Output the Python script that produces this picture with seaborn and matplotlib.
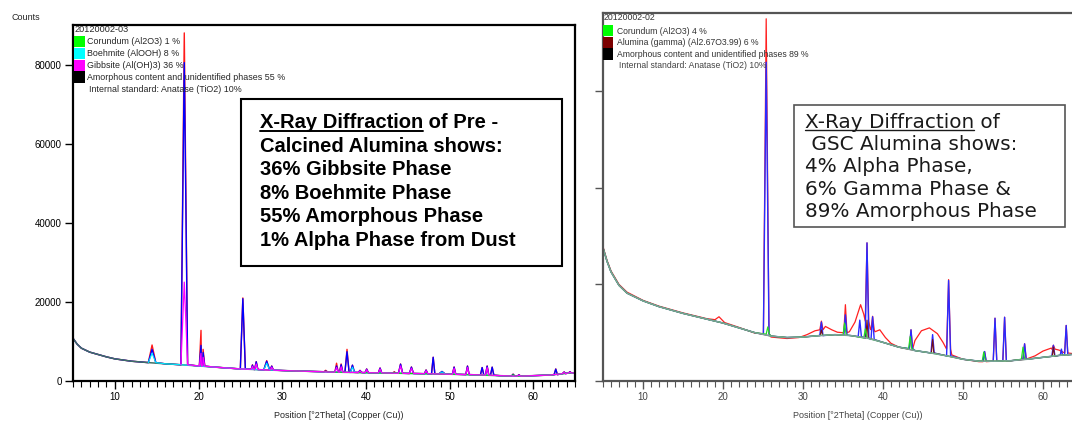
import numpy as np
import pandas as pd
import matplotlib
matplotlib.use("Agg")
import matplotlib.pyplot as plt
import seaborn as sns
from matplotlib.patches import Rectangle
from matplotlib.lines import Line2D
from matplotlib.ticker import MultipleLocator

# ---------------- Left panel data (sample 20120002-03) ----------------
L_bg_x = [5, 5.5, 6, 7, 8, 9, 10, 12, 14, 16, 18, 20, 22, 25, 28, 30, 33, 36, 40, 44, 48, 52, 56, 58, 60, 62, 64, 65]
L_bg_y = [10800, 9300, 8300, 7300, 6700, 6100, 5600, 5000, 4650, 4350, 4100, 3800, 3500, 3050, 2800, 2650,
          2450, 2250, 2100, 1950, 1800, 1620, 1350, 1230, 1350, 1500, 1950, 2100]

L_pk_pos = [14.45, 18.3, 20.3, 20.55, 25.3, 26.45, 26.9, 28.15, 28.75, 35.2, 36.5, 37.05, 37.75, 38.4, 39.3,
            40.1, 41.7, 43.4, 44.15, 45.45, 47.2, 48.05, 49.1, 50.55, 52.15, 53.9, 54.5, 55.1, 57.6, 58.3,
            62.7, 63.7, 64.4]
L_pk_base = [4650, 4100, 3800, 3750, 3050, 2950, 2900, 2800, 2750, 2350, 2250, 2220, 2200, 2180, 2150,
             2100, 2050, 1970, 1950, 1900, 1850, 1800, 1750, 1700, 1620, 1550, 1500, 1470, 1250, 1230,
             1600, 1850, 2000]
L_pk_obs = [9100, 88000, 12800, 8000, 21000, 4100, 4900, 5150, 3800, 2700, 4500, 4300, 8000, 4000, 2700,
            3050, 3300, 2350, 4300, 3550, 2800, 6000, 2400, 3550, 3800, 3400, 3800, 3500, 1750, 1600,
            3050, 2300, 2350]
L_pk_calc = [8000, 80500, 9000, 7200, 20800, 4000, 4850, 5000, 3750, 2500, 3800, 4100, 7400, 4000, 2650,
             3000, 3250, 2200, 4250, 3500, 2750, 6000, 2400, 3500, 3750, 3400, 3750, 3500, 1700, 1550,
             3000, 2250, 2300]
L_pk_phase_top = [7000, 25000, 7000, 6000, 20800, 3700, 4300, 4500, 3500, 2450, 3400, 3600, 7400, 3500, 2550,
                  2850, 3050, 2150, 3800, 3200, 2600, 6000, 2300, 3200, 3400, 3400, 3400, 3500, 1650, 1500,
                  3000, 2150, 2200]
L_pk_phase = ["B", "G", "G", "G", "A", "G", "G", "B", "G", "C", "G", "G", "A", "B", "G",
              "G", "G", "C", "G", "G", "G", "A", "B", "G", "G", "A", "G", "A", "C", "G",
              "A", "G", "G"]
L_pk_hw = [0.45, 0.4, 0.2, 0.2, 0.3, 0.15, 0.2, 0.35, 0.2, 0.2, 0.2, 0.2, 0.25, 0.25, 0.2,
           0.2, 0.2, 0.2, 0.25, 0.25, 0.2, 0.2, 0.4, 0.2, 0.2, 0.2, 0.2, 0.2, 0.2, 0.2,
           0.2, 0.2, 0.2]
L_legend = ["Corundum (Al2O3) 1 %", "Boehmite (AlOOH) 8 %", "Gibbsite (Al(OH)3) 36 %",
            "Amorphous content and unidentified phases 55 %"]
L_yticks = [0, 20000, 40000, 60000, 80000]

# ---------------- Right panel data (sample 20120002-02) ----------------
R_bg_x = [5, 5.5, 6, 7, 8, 10, 12, 15, 18, 20, 22, 24, 26, 28, 30, 32, 34, 36, 38, 40, 42, 44, 46, 48,
          50, 52, 54, 56, 58, 60, 62, 63.6]
R_bg_y = [13800, 12400, 11300, 9900, 9100, 8300, 7700, 7000, 6400, 6000, 5500, 5000, 4650, 4500, 4550,
          4700, 4800, 4700, 4450, 4000, 3500, 3150, 2900, 2600, 2250, 2050, 2050, 2100, 2250, 2450, 2650, 2750]

R_obs_x = [5, 5.5, 6, 7, 8, 10, 12, 15, 18, 19, 19.5, 20.2, 22, 24, 26, 28, 29.5, 30.5, 31.5, 32.8,
           33.6, 34.3, 35, 35.8, 36.5, 37.2, 37.6, 38.4, 39, 39.6, 40.3, 41, 42, 43, 44, 44.8, 45.8,
           46.8, 47.5, 48.6, 50, 52, 54, 56, 58, 59, 60, 61, 62, 62.6, 63.6]
R_obs_y = [13900, 12500, 11400, 10000, 9200, 8350, 7750, 7050, 6450, 6350, 6650, 6050, 5550, 4950, 4550,
           4400, 4500, 4800, 5200, 5650, 5300, 5050, 5000, 5100, 6100, 7900, 6900, 5400, 5100, 5300,
           4500, 3900, 3500, 3350, 4200, 5200, 5500, 4900, 4000, 2700, 2250, 2000, 2050, 2100, 2300,
           2600, 3100, 3400, 3200, 2950, 2850]

R_obs_pk_pos = [25.4, 32.3, 35.3, 38.0, 38.7, 43.5, 48.2, 52.7, 54.0, 55.2, 57.7, 61.3, 62.9]
R_obs_pk_base = [4900, 5300, 5000, 6200, 5300, 3300, 3300, 2000, 2050, 2100, 2250, 3300, 2900]
R_obs_pk_top = [37500, 6200, 7900, 14300, 6700, 5300, 10500, 3050, 6500, 6600, 3850, 3700, 5750]
R_obs_pk_hw = [0.35, 0.2, 0.2, 0.22, 0.2, 0.2, 0.25, 0.2, 0.22, 0.22, 0.2, 0.2, 0.2]

R_pk_pos = [25.4, 32.3, 35.3, 37.1, 38.0, 38.7, 43.5, 46.2, 48.2, 52.7, 54.0, 55.2, 57.7, 61.3, 62.3, 62.9]
R_pk_base = [4850, 4700, 4750, 4600, 4450, 4300, 3350, 2900, 2600, 2050, 2050, 2100, 2250, 2550, 2650, 2700]
R_pk_calc = [33000, 6100, 6850, 6300, 14300, 6650, 5300, 4800, 10400, 3050, 6500, 6600, 3850, 3700, 3300, 5750]
R_pk_hw = [0.35, 0.2, 0.2, 0.2, 0.22, 0.2, 0.2, 0.2, 0.25, 0.2, 0.22, 0.22, 0.2, 0.2, 0.15, 0.2]

R_cor_pos = [25.6, 35.2, 37.8, 43.4, 52.6, 57.5]
R_cor_base = [4850, 4750, 4450, 3350, 2050, 2250]
R_cor_top = [5600, 6000, 5400, 4600, 3000, 3500]
R_cor_hw = [0.2, 0.2, 0.2, 0.2, 0.2, 0.2]

R_gam_pos = [32.3, 38.0, 46.2, 61.3]
R_gam_base = [4700, 4450, 2900, 2550]
R_gam_top = [5300, 6300, 4300, 3500]
R_gam_hw = [0.15, 0.15, 0.15, 0.15]

R_legend = ["Corundum (Al2O3) 4 %", "Alumina (gamma) (Al2.67O3.99) 6 %",
            "Amorphous content and unidentified phases 89 %"]
R_yticks = [0, 10000, 20000, 30000]
X_major = [10, 20, 30, 40, 50, 60]


def profile(base_x, base_y, pos, base, top, hw, start=None):
    """Join the read curve points with the read peak (base, top) points."""
    rows = []
    for x, y in zip(base_x, base_y):
        if start is not None and x < start:
            continue
        if any(abs(x - p) < w for p, w in zip(pos, hw)):
            continue
        rows.append((x, y, 0))
    for p, b, t, w in zip(pos, base, top, hw):
        if start is not None and p < start:
            continue
        rows += [(p - w, b, 1), (p, t, 2), (p + w, b, 3)]
    rows.sort(key=lambda r: (r[0], r[2]))
    return pd.DataFrame({"x": [r[0] for r in rows], "y": [r[1] for r in rows]})


def sub(mask_list, *lists):
    return [[v for v, m in zip(lst, mask_list) if m] for lst in lists]


sns.set_theme(style="ticks")
plt.rcParams["font.family"] = ["Liberation Sans", "DejaVu Sans"]

W, H = 1072, 422
fig = plt.figure(figsize=(W / 100, H / 100), dpi=100)
axL = fig.add_axes([73 / W, 1 - 381 / H, 502 / W, 356 / H])
axR = fig.add_axes([603 / W, 1 - 381 / H, 520 / W, 368 / H])


def line(ax, df, color, lw):
    sns.lineplot(data=df, x="x", y="y", ax=ax, color=color, linewidth=lw,
                 estimator=None, sort=False, legend=False)


# ---- left panel lines ----
line(axL, profile(L_bg_x, L_bg_y, L_pk_pos, L_pk_base, L_pk_obs, L_pk_hw), "#ff1a1a", 1.0)
line(axL, profile(L_bg_x, L_bg_y, L_pk_pos, L_pk_base, L_pk_calc, L_pk_hw), "#0000ff", 1.0)
line(axL, pd.DataFrame({"x": L_bg_x, "y": L_bg_y}), "#3f6f66", 1.1)
for ph, col, start, lw in [("B", "#00e8ff", 13, 0.8), ("C", "#00e000", 30, 0.7), ("G", "#ff00ff", 17, 0.9)]:
    mask = [p == ph for p in L_pk_phase]
    pos, base, top, hw = sub(mask, L_pk_pos, L_pk_base, L_pk_phase_top, L_pk_hw)
    line(axL, profile(L_bg_x, L_bg_y, pos, base, top, hw, start=start), col, lw)

# ---- right panel lines ----
line(axR, profile(R_obs_x, R_obs_y, R_obs_pk_pos, R_obs_pk_base, R_obs_pk_top, R_obs_pk_hw), "#ff2020", 0.9)
line(axR, profile(R_bg_x, R_bg_y, R_pk_pos, R_pk_base, R_pk_calc, R_pk_hw), "#2a2aff", 1.0)
line(axR, profile(R_bg_x, R_bg_y, R_gam_pos, R_gam_base, R_gam_top, R_gam_hw), "#7b1010", 0.8)
line(axR, profile(R_bg_x, R_bg_y, R_cor_pos, R_cor_base, R_cor_top, R_cor_hw), "#22dd22", 0.9)
line(axR, pd.DataFrame({"x": R_bg_x, "y": R_bg_y}), "#7aa39a", 1.1)

# ---- axes styling ----
for ax, spc, lab, xmax, ymax, yt in [(axL, "black", "black", 65, 90000, L_yticks),
                                     (axR, "#555555", "#444444", 70, 38100, R_yticks)]:
    ax.set_xticks(X_major)
    ax.xaxis.set_minor_locator(MultipleLocator(1))
    ax.set_yticks(yt)
    ax.set_xlim(5, xmax)
    ax.set_ylim(0, ymax)
    ax.set_xlabel("")
    ax.set_ylabel("")
    for s in ax.spines.values():
        s.set_visible(True)
        s.set_color(spc)
        s.set_linewidth(1.6)
    ax.tick_params(which="major", direction="out", length=6, width=1, color=spc,
                   labelsize=7, labelcolor=lab, pad=2)
    ax.tick_params(which="minor", direction="out", length=4, width=0.8, color=spc)
    ax.tick_params(axis="y", which="minor", left=False)
    ax.set_facecolor("white")
axL.yaxis.set_major_formatter(matplotlib.ticker.FuncFormatter(lambda v, p: f"{int(v)}"))
axR.tick_params(axis="y", labelleft=False)


def px(x, y):
    return x / W, 1 - y / H


def ftext(x, y, s, **kw):
    return fig.text(*px(x, y), s, **kw)


def square(x, y, w, h, c):
    fig.add_artist(Rectangle(px(x, y + h), w / W, h / H, transform=fig.transFigure,
                             facecolor=c, edgecolor="none", zorder=6))


# axis titles
ftext(12, 18, "Counts", fontsize=6.5, va="center", ha="left")
ftext(339, 416, "Position [°2Theta] (Copper (Cu))", fontsize=6.5, ha="center", va="center")
ftext(858, 416, "Position [°2Theta] (Copper (Cu))", fontsize=6.5, ha="center", va="center", color="#444444")

# left legend
ftext(74, 30, "20120002-03", fontsize=6.6, va="center", zorder=6)
for i, (lbl, c) in enumerate(zip(L_legend, ["#00ff00", "#00ffff", "#ff00ff", "black"])):
    y0 = 36 + i * 11.8
    square(74, y0, 11, 11.3, c)
    ftext(87, y0 + 6, lbl, fontsize=6.4, va="center", zorder=6)
ftext(89, 89, "Internal standard: Anatase (TiO2) 10%", fontsize=6.4, va="center", zorder=6)

# right legend
ftext(604, 17, "20120002-02", fontsize=6.3, va="center", color="#333333", zorder=6)
for i, (lbl, c) in enumerate(zip(R_legend, ["#00ff00", "#7b0000", "black"])):
    y0 = 25 + i * 11.6
    square(603, y0, 10, 11.3, c)
    ftext(617, y0 + 6, lbl, fontsize=6.2, va="center", color="#333333", zorder=6)
ftext(619, 66, "Internal standard: Anatase (TiO2) 10%", fontsize=6.2, va="center", color="#444444", zorder=6)

# annotation boxes
fig.add_artist(Rectangle(px(241, 266), 321 / W, 167 / H, transform=fig.transFigure,
                         facecolor="white", edgecolor="black", linewidth=1.5, zorder=7))
fig.add_artist(Rectangle(px(794, 227), 271 / W, 122 / H, transform=fig.transFigure,
                         facecolor="white", edgecolor="#555555", linewidth=1.2, zorder=7))

L_box_lines = ["Calcined Alumina shows:", "36% Gibbsite Phase", "8% Boehmite Phase",
               "55% Amorphous Phase", "1% Alpha Phase from Dust"]
R_box_lines = [" GSC Alumina shows:", "4% Alpha Phase,", "6% Gamma Phase &", "89% Amorphous Phase"]

lkw = dict(fontsize=14.5, fontweight="bold", family=["Liberation Sans", "DejaVu Sans"],
           va="baseline", ha="left", zorder=8, color="black")
rkw = dict(fontsize=14.4, family=["DejaVu Sans"], va="baseline", ha="left", zorder=8, color="#1a1a1a")

tL = ftext(260, 128, "X-Ray Diffraction", **lkw)
for i, s in enumerate(L_box_lines):
    ftext(260, 151.5 + i * 23.6, s, **lkw)
tR = ftext(805, 127.5, "X-Ray Diffraction", **rkw)
for i, s in enumerate(R_box_lines):
    ftext(805, 150 + i * 22.5, s, **rkw)

fig.canvas.draw()
r = fig.canvas.get_renderer()
for t, base_y, rest, kw, lw in [(tL, 128, " of Pre -", lkw, 1.4), (tR, 127.5, " of", rkw, 1.0)]:
    bb = t.get_window_extent(renderer=r)
    ftext(bb.x1, base_y, rest, **kw)
    yl = 1 - (base_y + 2.5) / H
    fig.add_artist(Line2D([bb.x0 / W, bb.x1 / W], [yl, yl], transform=fig.transFigure,
                          color=kw["color"], linewidth=lw, zorder=8))

fig.savefig("out.png", dpi=100)
